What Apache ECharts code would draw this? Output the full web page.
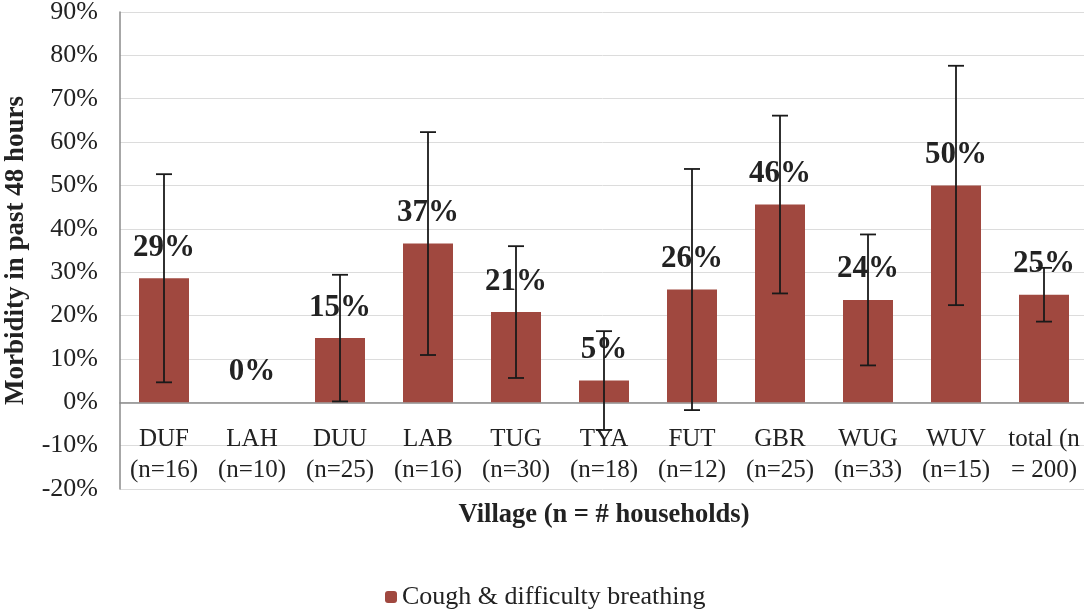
<!DOCTYPE html>
<html>
<head>
<meta charset="utf-8">
<script src="https://cdn.jsdelivr.net/npm/echarts@6/dist/echarts.min.js"></script>
<style>
  html, body { margin: 0; padding: 0; background: #fff; }
  #chart { width: 1084px; height: 609px; }
</style>
</head>
<body>
<div id="chart"></div>
<script>
const villages = ['DUF\n(n=16)', 'LAH\n(n=10)', 'DUU\n(n=25)', 'LAB\n(n=16)', 'TUG\n(n=30)', 'TYA\n(n=18)',
  'FUT\n(n=12)', 'GBR\n(n=25)', 'WUG\n(n=33)', 'WUV\n(n=15)', 'total (n\n= 200)']
// morbidity in %
const morbidity = [28.6, 0, 14.8, 36.6, 20.8, 5.0, 26.0, 45.6, 23.6, 50.0, 24.8]
// error bar half width in %
const errMargin = [24.0, 0, 14.6, 25.7, 15.2, 11.4, 27.8, 20.5, 15.1, 27.6, 6.2]
const seriesName = 'Cough & difficulty breathing'

const barColor = '#a0483f'
const serif = '"Liberation Serif", "DejaVu Serif", serif'

const errData = morbidity.map((v, i) => [i, v - errMargin[i], v + errMargin[i]])

const chart = echarts.init(document.getElementById('chart'))

const option = {
  animation: false,
  textStyle: { fontFamily: serif },
  grid: { left: 120, right: -4, top: 12, bottom: 120, outerBoundsMode: 'none', containLabel: false },
  legend: {
    data: [seriesName],
    left: 380,
    top: 579,
    itemWidth: 12,
    itemHeight: 12,
    itemGap: 6,
    textStyle: { fontFamily: serif, fontSize: 26, color: '#222' }
  },
  xAxis: {
    type: 'category',
    data: villages,
    name: 'Village (n = # households)',
    nameLocation: 'middle',
    nameGap: 13,
    nameTextStyle: { fontFamily: serif, fontSize: 26.5, fontWeight: 'bold', color: '#222' },
    axisLine: { lineStyle: { color: '#8a8a8a', width: 1.5 } },
    axisTick: { show: false },
    axisLabel: { fontFamily: serif, fontSize: 25, color: '#222', margin: -65, lineHeight: 31, interval: 0 }
  },
  yAxis: {
    type: 'value',
    min: -20,
    max: 90,
    interval: 10,
    name: 'Morbidity in past 48 hours',
    nameLocation: 'middle',
    nameGap: 90,
    nameTextStyle: { fontFamily: serif, fontSize: 27, fontWeight: 'bold', color: '#222' },
    axisLine: { show: true, lineStyle: { color: '#8a8a8a', width: 1.5 } },
    axisTick: { show: false },
    axisLabel: { fontFamily: serif, fontSize: 26, color: '#222', margin: 22, formatter: v => v + '%' },
    splitLine: { lineStyle: { color: '#dcdcdc', width: 1 } }
  },
  series: [
    {
      name: seriesName,
      type: 'bar',
      data: morbidity,
      barWidth: 50,
      itemStyle: { color: barColor },
      label: {
        show: true,
        position: 'top',
        distance: 15,
        fontFamily: serif,
        fontSize: 31,
        fontWeight: 'bold',
        color: '#222',
        formatter: p => Math.round(p.value) + '%'
      },
      z: 2
    },
    {
      name: 'error',
      type: 'custom',
      data: errData,
      z: 5,
      renderItem: (params, api) => {
        const i = api.value(0)
        if (api.value(2) - api.value(1) <= 0) return null
        const lo = api.coord([i, api.value(1)])
        const hi = api.coord([i, api.value(2)])
        const cap = 8
        const style = { stroke: '#1a1a1a', lineWidth: 1.8 }
        return {
          type: 'group',
          children: [
            { type: 'line', shape: { x1: hi[0], y1: hi[1], x2: lo[0], y2: lo[1] }, style },
            { type: 'line', shape: { x1: hi[0] - cap, y1: hi[1], x2: hi[0] + cap, y2: hi[1] }, style },
            { type: 'line', shape: { x1: lo[0] - cap, y1: lo[1], x2: lo[0] + cap, y2: lo[1] }, style }
          ]
        }
      }
    }
  ]
}

chart.setOption(option)
</script>
</body>
</html>
